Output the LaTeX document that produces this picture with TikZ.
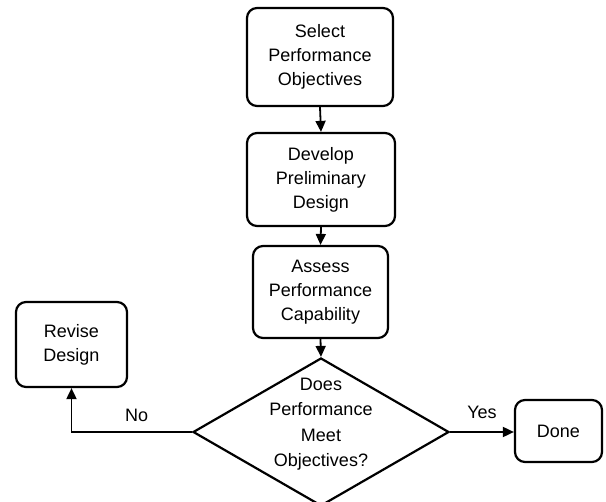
\documentclass[tikz,border=0pt]{standalone}
\usepackage{fontspec}
\setmainfont{Liberation Sans}
\usepackage{tikz}
\usetikzlibrary{shapes.geometric,arrows.meta,positioning,calc}

\begin{document}
\begin{tikzpicture}[x=1pt, y=-1pt,
    step box/.style={rectangle, rounded corners=10pt, draw=black, line width=2.2pt, align=center, font=\fontsize{18}{24}\selectfont, fill=white, inner sep=0pt},
    decision/.style={diamond, draw=black, line width=2.2pt, minimum width=256pt, minimum height=148pt, inner sep=0pt},
    arrow/.style={-{Triangle[length=11pt,width=10pt]}, line width=1.8pt},
    lbl/.style={font=\fontsize{18}{21}\selectfont}]

\useasboundingbox (0,0) rectangle (606,502);

% Main chain of steps placed at absolute coordinates
\node[step box, minimum width=146pt, minimum height=98pt] (select) at (320,57) {Select\\Performance\\Objectives};
\node[step box, minimum width=148pt, minimum height=93pt] (develop) at (321,179.5) {Develop\\Preliminary\\Design};
\node[step box, minimum width=135pt, minimum height=92pt] (assess) at (320.5,292) {Assess\\Performance\\Capability};

% Decision and its outcomes
\node[decision] (meet) at (321,432) {};
\node[align=center, font=\fontsize{18}{25.5}\selectfont] (meettext) at ($(meet.center)+(0,-8)$) {Does\\Performance\\Meet\\Objectives?};
\node[step box, minimum width=111pt, minimum height=85pt] (revise) at (71.5,344.5) {Revise\\Design};
\node[step box, minimum width=87pt, minimum height=62pt] (done) at (558.5,431) {Done};

% Forward arrows
\draw[arrow] (select.south) -- (develop.north);
\draw[arrow] (develop.south) -- (assess.north);
\draw[arrow] (assess.south) -- (meet.north);

% Yes / No branches
\draw[arrow] (meet.east) -- (done.west |- meet.east)
    node[pos=0.5, above=9pt, lbl] {Yes};
\draw[arrow] (meet.west) -| (revise.south)
    node[pos=0.23, above=6pt, lbl] {No};

\end{tikzpicture}
\end{document}
